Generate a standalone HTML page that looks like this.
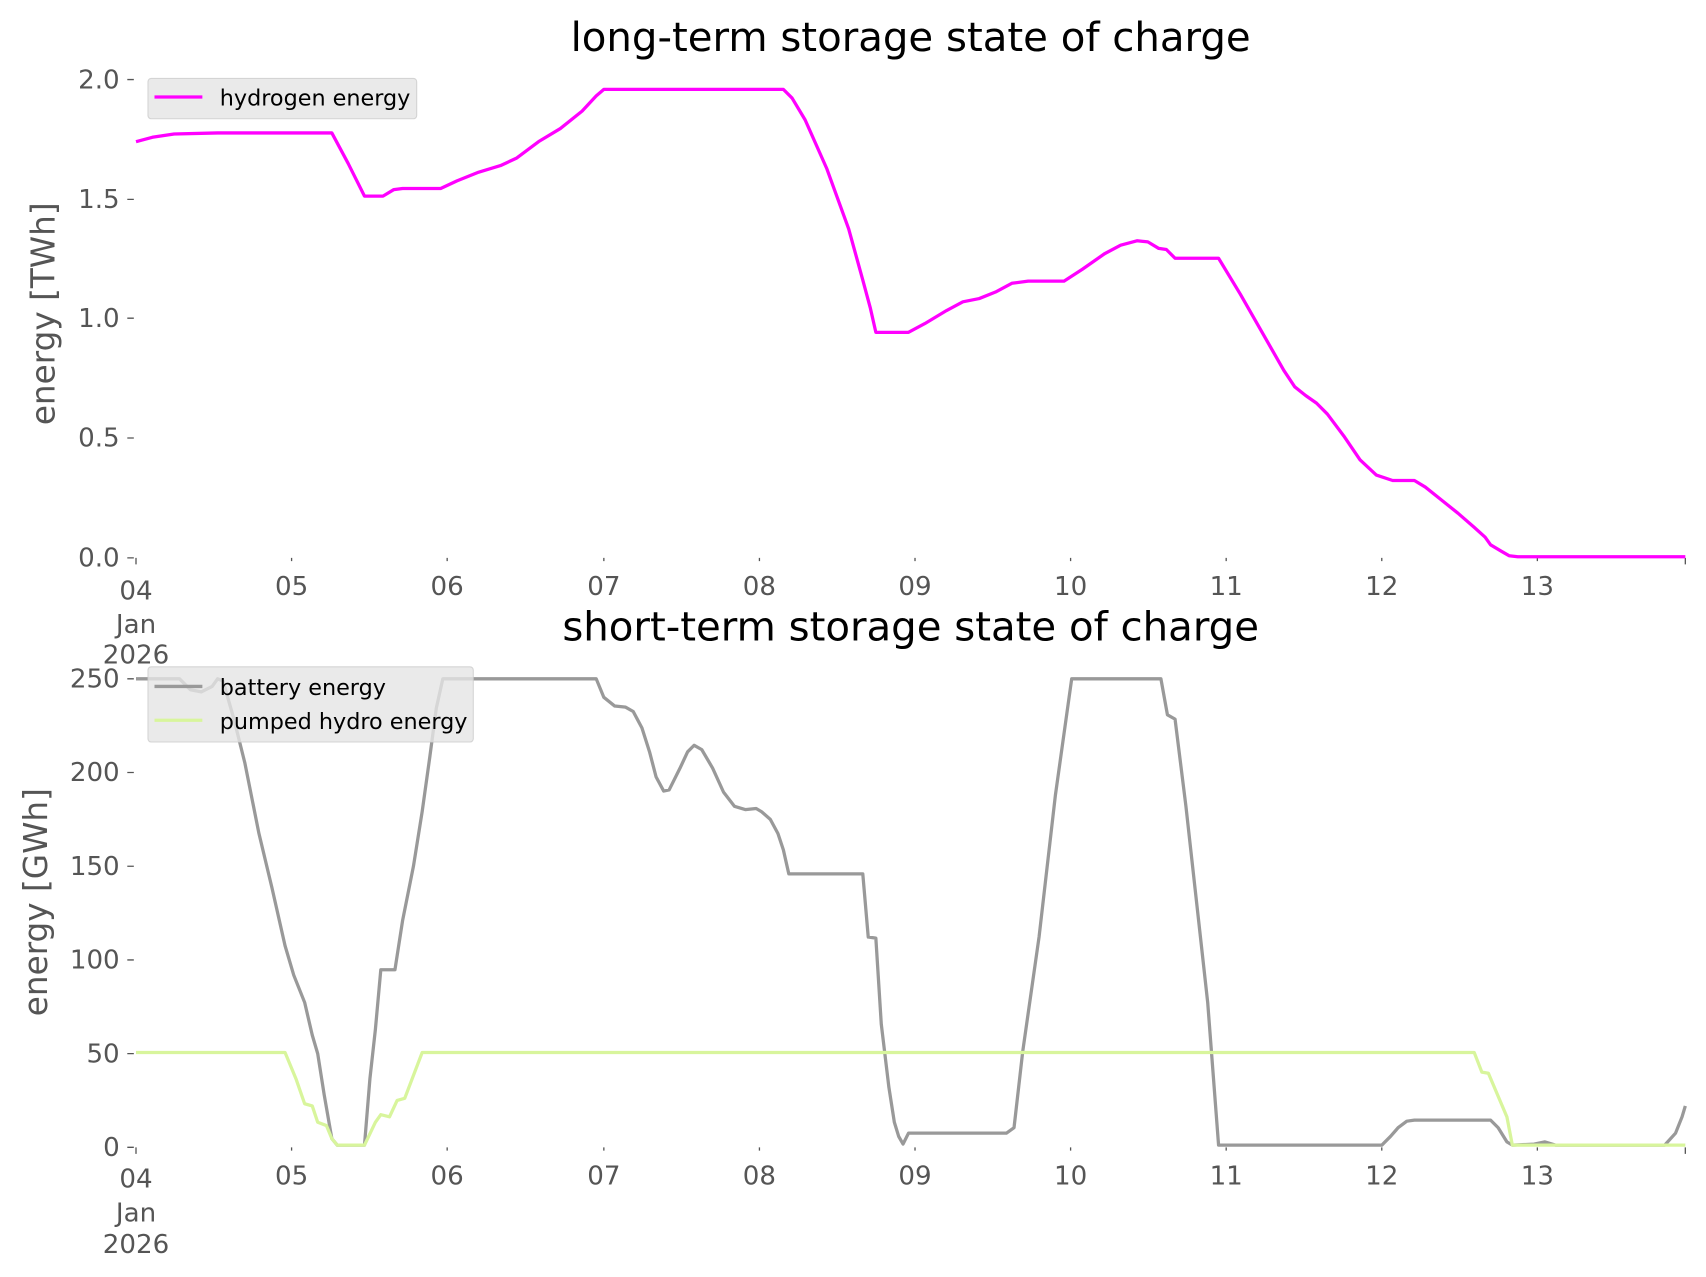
<!DOCTYPE html>
<html><head><meta charset="utf-8"><style>html,body{margin:0;padding:0;background:#fff}svg{display:block}</style></head>
<body>
<svg width="1706" height="1277" viewBox="0 0 1568 1172" preserveAspectRatio="none" xmlns="http://www.w3.org/2000/svg" font-family="DejaVu Sans, Liberation Sans, sans-serif">
<rect width="1568" height="1172" fill="#fff"/>
<text x="837" y="47" font-size="37" text-anchor="middle" fill="#000">long-term storage state of charge</text>
<text x="837" y="588" font-size="37" text-anchor="middle" fill="#000">short-term storage state of charge</text>
<g font-size="24" fill="#555" text-anchor="end">
<text x="110" y="81">2.0</text><text x="110" y="191">1.5</text><text x="110" y="300">1.0</text><text x="110" y="410">0.5</text><text x="110" y="520">0.0</text>
<text x="110" y="631">250</text><text x="110" y="717">200</text><text x="110" y="803">150</text><text x="110" y="889">100</text><text x="110" y="975">50</text><text x="110" y="1061">0</text>
</g>
<g stroke="#555" stroke-width="1.2">
<path d="M117 73h6M117 183h6M117 292h6M117 402h6M117 512h6M117 623h6M117 709h6M117 795h6M117 881h6M117 967h6M117 1053h6"/>
<path d="M125 512v6M268 512v3M411 512v3M555 512v3M698 512v3M841 512v3M984 512v3M1127 512v3M1270 512v3M1413 512v3M1549 512v6"/>
<path d="M125 1053v6M268 1053v3M411 1053v3M555 1053v3M698 1053v3M841 1053v3M984 1053v3M1127 1053v3M1270 1053v3M1413 1053v3M1549 1053v6"/>
</g>
<g font-size="24" fill="#555" text-anchor="middle">
<text x="125" y="550">04</text><text x="125" y="581">Jan</text><text x="125" y="609">2026</text>
<text x="268" y="546">05</text><text x="411" y="546">06</text><text x="555" y="546">07</text><text x="698" y="546">08</text><text x="841" y="546">09</text><text x="984" y="546">10</text><text x="1127" y="546">11</text><text x="1270" y="546">12</text><text x="1413" y="546">13</text>
<text x="125" y="1090">04</text><text x="125" y="1121">Jan</text><text x="125" y="1150">2026</text>
<text x="268" y="1087">05</text><text x="411" y="1087">06</text><text x="555" y="1087">07</text><text x="698" y="1087">08</text><text x="841" y="1087">09</text><text x="984" y="1087">10</text><text x="1127" y="1087">11</text><text x="1270" y="1087">12</text><text x="1413" y="1087">13</text>
</g>
<text transform="translate(50,288) rotate(-90)" font-size="30" fill="#555" text-anchor="middle">energy [TWh]</text>
<text transform="translate(43,828) rotate(-90)" font-size="30" fill="#555" text-anchor="middle">energy [GWh]</text>
<polyline fill="none" stroke="#ff00ff" stroke-width="3" stroke-linejoin="round" points="125,130 140,126 160,123 200,122 240,122 305,122 320,150 335,180 352,180 362,174 370,173 405,173 420,166 440,158 460,152 475,145 495,130 515,118 535,102 548,88 555,82 720,82 728,90 740,110 760,155 780,210 793,257 800,283 805,305 835,305 850,297 870,285 885,277 900,274 915,268 930,260 945,258 978,258 995,247 1015,233 1030,225 1045,221 1055,222 1065,228 1072,229 1080,237 1120,237 1140,270 1160,305 1180,340 1190,355 1200,363 1210,370 1220,380 1235,400 1250,422 1265,436 1280,441 1300,441 1310,447 1325,459 1340,471 1355,484 1365,493 1370,500 1380,506 1387,510 1395,511 1549,511"/>
<polyline fill="none" stroke="#999" stroke-width="3" stroke-linejoin="round" points="125,623 165,623 175,633 185,635 195,630 200,623 205,625 215,660 225,700 238,765 250,815 262,868 270,895 280,920 287,950 292,967 298,1005 305,1045 310,1051 335,1051 340,990 345,945 350,890 363,890 370,845 380,795 388,745 395,695 401,650 407,623 548,623 555,640 565,648 575,649 582,653 590,668 597,690 603,713 610,726 615,725 625,705 632,690 638,684 645,688 655,705 665,727 675,740 685,743 695,742 700,745 708,752 715,765 720,780 725,802 793,802 798,860 805,861 810,940 817,998 822,1030 826,1043 830,1050 835,1040 925,1040 932,1035 940,965 955,860 970,730 985,623 1067,623 1073,656 1080,660 1090,740 1100,830 1110,920 1120,1051 1270,1051 1278,1043 1285,1035 1293,1029 1300,1028 1370,1028 1377,1035 1385,1048 1390,1051 1410,1050 1420,1048 1430,1051 1530,1051 1540,1040 1546,1025 1549,1015"/>
<polyline fill="none" stroke="#d8f59c" stroke-width="3" stroke-linejoin="round" points="125,966 262,966 272,990 280,1013 287,1015 292,1030 300,1033 305,1045 310,1051 335,1051 345,1030 350,1023 358,1025 365,1010 372,1008 388,966 1355,966 1362,984 1368,985 1385,1025 1390,1051 1549,1051"/>
<rect x="136" y="72" width="247" height="37" rx="3" fill="#e5e5e5" fill-opacity="0.8" stroke="#ccc" stroke-opacity="0.8"/>
<line x1="142" y1="89" x2="186" y2="89" stroke="#ff00ff" stroke-width="3"/>
<text x="202" y="97" font-size="20.5" fill="#000">hydrogen energy</text>
<rect x="136" y="612" width="299" height="69" rx="3" fill="#e5e5e5" fill-opacity="0.8" stroke="#ccc" stroke-opacity="0.8"/>
<line x1="142" y1="630" x2="186" y2="630" stroke="#999" stroke-width="3"/>
<text x="202" y="638" font-size="20.5" fill="#000">battery energy</text>
<line x1="142" y1="661" x2="186" y2="661" stroke="#d8f59c" stroke-width="3"/>
<text x="202" y="669" font-size="20.5" fill="#000">pumped hydro energy</text>
</svg>
</body></html>
